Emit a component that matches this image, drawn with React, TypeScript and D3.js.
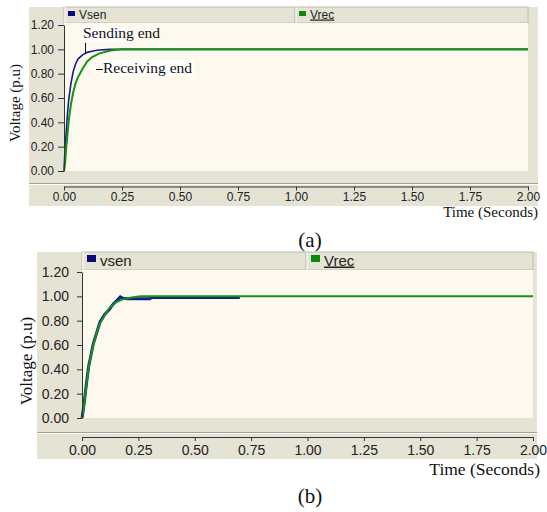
import React, { useEffect, useRef } from "react";
import * as d3 from "d3";

// (a) step response, sending vs receiving end
const timeSenA = [0, 0.005, 0.01, 0.015, 0.02, 0.03, 0.04, 0.05, 0.06, 0.08, 0.1, 0.12, 0.15, 0.2, 0.25, 2.0];
const vsenA = [0, 0.2, 0.33, 0.47, 0.58, 0.72, 0.82, 0.88, 0.92, 0.955, 0.975, 0.985, 0.995, 1.0, 1.0, 1.0];
const timeRecA = [0, 0.005, 0.01, 0.015, 0.02, 0.03, 0.04, 0.05, 0.06, 0.08, 0.1, 0.12, 0.15, 0.2, 0.25, 2.0];
const vrecA = [0, 0.07, 0.2, 0.3, 0.41, 0.55, 0.65, 0.72, 0.77, 0.84, 0.9, 0.935, 0.965, 0.99, 1.0, 1.0];

// (b)
const timeSenB = [0, 0.005, 0.01, 0.02, 0.03, 0.05, 0.08, 0.1, 0.12, 0.14, 0.16, 0.17, 0.18, 0.2, 0.3, 0.31, 0.7];
const vsenB = [0, 0.06, 0.13, 0.29, 0.43, 0.61, 0.79, 0.85, 0.89, 0.94, 0.975, 0.995, 0.985, 0.98, 0.98, 0.99, 0.99];
const timeRecB = [0, 0.005, 0.01, 0.015, 0.02, 0.03, 0.04, 0.05, 0.065, 0.08, 0.1, 0.12, 0.15, 0.18, 0.22, 0.26, 2.0];
const vrecB = [0, 0.05, 0.12, 0.2, 0.28, 0.42, 0.52, 0.6, 0.7, 0.78, 0.84, 0.9, 0.95, 0.975, 0.99, 1.0, 1.0];

const xTicks = [0, 0.25, 0.5, 0.75, 1.0, 1.25, 1.5, 1.75, 2.0];
const yTicks = [0, 0.2, 0.4, 0.6, 0.8, 1.0, 1.2];

const GRAY = "#e5e3d4";
const CREAM = "#fdf9ee";
const BLUE = "#1a1a8f";
const GREEN = "#159315";
const SANS = "'Liberation Sans', Arial, sans-serif";
const SERIF = "'Liberation Serif', 'Times New Roman', serif";

const zip = (t, v) => t.map((d, i) => [d, v[i]]);

function Panel({ g, sen, rec, senName, senWidth, children }) {
  const xRef = useRef(null);
  const yRef = useRef(null);

  const x = d3.scaleLinear().domain([0, 2]).range([g.left, g.right]);
  const y = d3.scaleLinear().domain([0, 1.2]).range([g.bottom, g.top]);
  const line = d3.line().x(d => x(d[0])).y(d => y(d[1]));

  useEffect(() => {
    const xAxis = d3.axisBottom(x).tickValues(xTicks).tickFormat(d3.format(".2f"))
      .tickSize(4).tickSizeOuter(0).tickPadding(g.xPad);
    const yAxis = d3.axisLeft(y).tickValues(yTicks).tickFormat(d3.format(".2f"))
      .tickSize(g.ySize).tickSizeOuter(0).tickPadding(g.yPad);
    for (const [ref, ax] of [[xRef, xAxis], [yRef, yAxis]]) {
      const sel = d3.select(ref.current);
      sel.call(ax);
      sel.selectAll("path,line").attr("stroke", "#333");
      sel.selectAll("text").attr("fill", "#222").style("font-family", SANS).style("font-size", g.tickFont + "px");
    }
  });

  return (
    <g>
      <rect x={g.pl} y={g.pt} width={g.pr - g.pl} height={g.pb - g.pt} fill={GRAY} />
      {/* legend strip */}
      <rect x={g.left} y={g.pt} width={g.right - g.left} height={g.top0 - g.pt} fill={GRAY} stroke="#bdbcae" />
      <line x1={g.left + 1} x2={g.left + 1} y1={g.pt} y2={g.top0} stroke="#fff" />
      <line x1={g.div} x2={g.div} y1={g.pt} y2={g.top0} stroke="#b0afa2" />
      <line x1={g.div + 1} x2={g.div + 1} y1={g.pt} y2={g.top0} stroke="#fff" />
      <rect x={g.left + g.sqDx} y={g.sqY} width={g.sqW} height={g.sqH} fill="#0a0a80" />
      <text x={g.left + g.txDx} y={g.legY} fontFamily={SANS} fontSize={g.legFont} fill="#222">{senName}</text>
      <rect x={g.div + g.sqDx} y={g.sqY} width={g.sqW} height={g.sqH} fill="#0a8a0a" />
      <text x={g.div + g.txDx} y={g.legY} fontFamily={SANS} fontSize={g.legFont} fill="#222" textDecoration="underline">Vrec</text>
      {/* plot area */}
      <rect x={g.left} y={g.top0} width={g.right - g.left} height={g.plotBottom - g.top0} fill={CREAM} />
      <line x1={g.pl} x2={g.pr} y1={g.band} y2={g.band} stroke="#a2a195" />
      <line x1={g.pl} x2={g.pr} y1={g.band + 1} y2={g.band + 1} stroke="#fff" />
      <path d={line(sen)} fill="none" stroke={BLUE} strokeWidth={senWidth} />
      <path d={line(rec)} fill="none" stroke={GREEN} strokeWidth={2} />
      <g ref={yRef} transform={`translate(${g.left},0)`} />
      <g ref={xRef} transform={`translate(0,${g.axisY})`} />
      <text transform={`translate(${g.ylx},${g.yly}) rotate(-90)`} textAnchor="middle"
        fontFamily={SERIF} fontSize={g.ylFont} fill="#111">Voltage (p.u)</text>
      <text x={g.xlx} y={g.xly} textAnchor="end" fontFamily={SERIF} fontSize={g.xlFont} fill="#111">Time (Seconds)</text>
      <text x={310} y={g.capY} textAnchor="middle" fontFamily={SERIF} fontSize={21} fill="#111">{g.cap}</text>
      {children}
    </g>
  );
}

const geomA = {
  pl: 29, pr: 538, pt: 7, pb: 206, left: 64, right: 528, top0: 23, top: 25, bottom: 171, plotBottom: 171,
  band: 183.5, axisY: 186.5, div: 295, xPad: 2, ySize: 6, yPad: 4, tickFont: 12,
  sqDx: 4, sqY: 11, sqW: 7, sqH: 5, txDx: 15, legY: 18.5, legFont: 12,
  ylx: 20, yly: 103, ylFont: 15, xlx: 538, xly: 217, xlFont: 15, capY: 247, cap: "(a)"
};

const geomB = {
  pl: 37, pr: 537, pt: 252, pb: 459, left: 82, right: 533, top0: 270, top: 272, bottom: 418, plotBottom: 418,
  band: 432.5, axisY: 437, div: 306, xPad: 4, ySize: 5, yPad: 8, tickFont: 14,
  sqDx: 5, sqY: 255, sqW: 9, sqH: 7, txDx: 18, legY: 265.5, legFont: 15,
  ylx: 32, yly: 361, ylFont: 17, xlx: 540, xly: 475, xlFont: 17.5, capY: 503, cap: "(b)"
};

export default function App() {
  return (
    <svg width={547} height={512} style={{ position: "absolute", left: 0, top: 0, background: "#fff" }}>
      <Panel g={geomA} sen={zip(timeSenA, vsenA)} rec={zip(timeRecA, vrecA)} senName="Vsen" senWidth={1.6}>
        <rect x={82} y={27} width={43} height={15} fill="#fff" />
        <text x={83} y={38} fontFamily={SERIF} fontSize={15.5} fill="#111">Sending end</text>
        <line x1={85.5} x2={85.5} y1={43} y2={53} stroke="#111" />
        <rect x={102} y={60} width={92} height={16} fill="#fff" />
        <line x1={96} x2={103} y1={69.5} y2={69.5} stroke="#111" />
        <text x={103} y={72.5} fontFamily={SERIF} fontSize={15.5} fill="#111">Receiving end</text>
      </Panel>
      <Panel g={geomB} sen={zip(timeSenB, vsenB)} rec={zip(timeRecB, vrecB)} senName="vsen" senWidth={3} />
    </svg>
  );
}
